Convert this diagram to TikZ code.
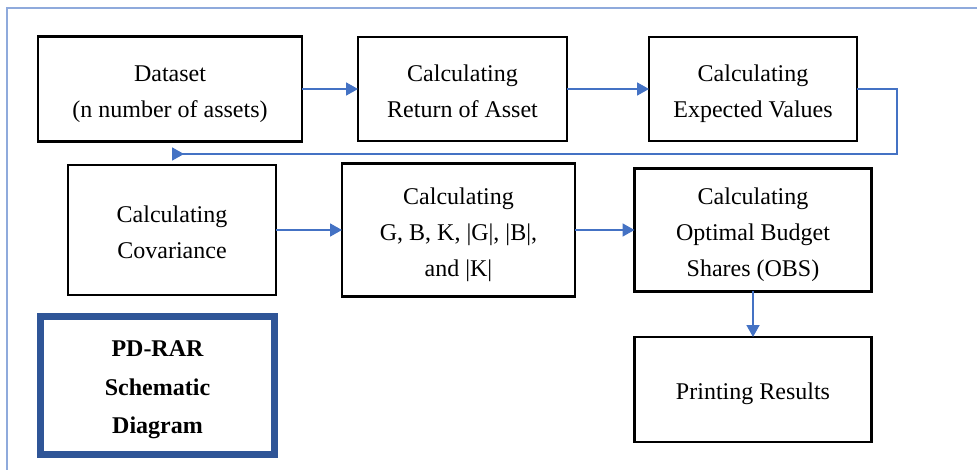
\documentclass[tikz,border=0pt]{standalone}
\usepackage{fontspec}
\setmainfont{Liberation Serif}
\usetikzlibrary{arrows.meta}
\definecolor{flowblue}{HTML}{4472C4}
\definecolor{frameblue}{HTML}{8FAADC}
\definecolor{titleblue}{HTML}{2F5597}
% stacked, centred lines with a fixed row pitch; the rule adds a little
% headroom so the lines sit slightly below the box centre
\newcommand{\steplines}[1]{\begin{tabular}{@{}c@{}}\rule{0pt}{31pt}#1\end{tabular}}
\tikzset{
  stepbox/.style={draw=black, line width=2.5pt, rectangle,
    inner sep=0pt, outer sep=0pt,
    font=\fontsize{24}{36}\selectfont},
  titlebox/.style={draw=titleblue, line width=6.5pt, rectangle,
    inner sep=0pt, outer sep=0pt,
    font=\fontsize{24}{38.5}\selectfont\bfseries},
  flow/.style={draw=flowblue, line width=1.8pt,
    -{Triangle[length=12pt,width=13pt]}},
  backflow/.style={draw=flowblue, line width=1.8pt,
    -{Triangle[reversed,length=12pt,width=13pt]}},
}
\begin{document}
\begin{tikzpicture}[x=1pt,y=-1pt]
  \useasboundingbox (0,0) rectangle (977,470);
  % outer frame (top and left edges only)
  \draw[frameblue, line width=1.5pt] (977,8) -- (7,8) -- (7,470);

  % first row
  \node[stepbox, minimum width=264pt, minimum height=105pt] (data) at (170,89)
    {\steplines{Dataset\\(n number of assets)}};
  \node[stepbox, minimum width=209pt, minimum height=104pt] (ret) at (462.5,89)
    {\steplines{Calculating\\Return of Asset}};
  \node[stepbox, minimum width=208pt, minimum height=104pt] (exp) at (753,89)
    {\steplines{Calculating\\Expected Values}};

  % second row
  \node[stepbox, minimum width=208pt, minimum height=130pt] (cov) at (172,230)
    {\steplines{Calculating\\Covariance}};
  \node[stepbox, minimum width=233pt, minimum height=133pt] (gbk) at (458.5,230)
    {\steplines{Calculating\\G, B, K, |G|, |B|,\\and |K|}};
  \node[stepbox, minimum width=237pt, minimum height=123pt] (obs) at (753,230)
    {\steplines{Calculating\\Optimal Budget\\Shares (OBS)}};

  % third row
  \node[stepbox, minimum width=237pt, minimum height=105pt] (print) at (753,389.5)
    {\steplines{Printing Results}};
  \node[titlebox, minimum width=234pt, minimum height=138pt] (title) at (157.5,385.5)
    {\steplines{PD-RAR\\Schematic\\Diagram}};

  % connectors
  \coordinate (loopR) at (897,154);
  \coordinate (loopL) at (172,154);
  \draw[flow] (data.east) -- (data.east -| ret.west);
  \draw[flow] (ret.east) -- (ret.east -| exp.west);
  \draw[backflow] (exp.east) -| (loopR) -- (loopL);
  \draw[flow] (cov.east) -- (cov.east -| gbk.west);
  \draw[flow] (gbk.east) -- (gbk.east -| obs.west);
  \draw[flow] (obs.south) -- (obs.south |- print.north);
\end{tikzpicture}
\end{document}
